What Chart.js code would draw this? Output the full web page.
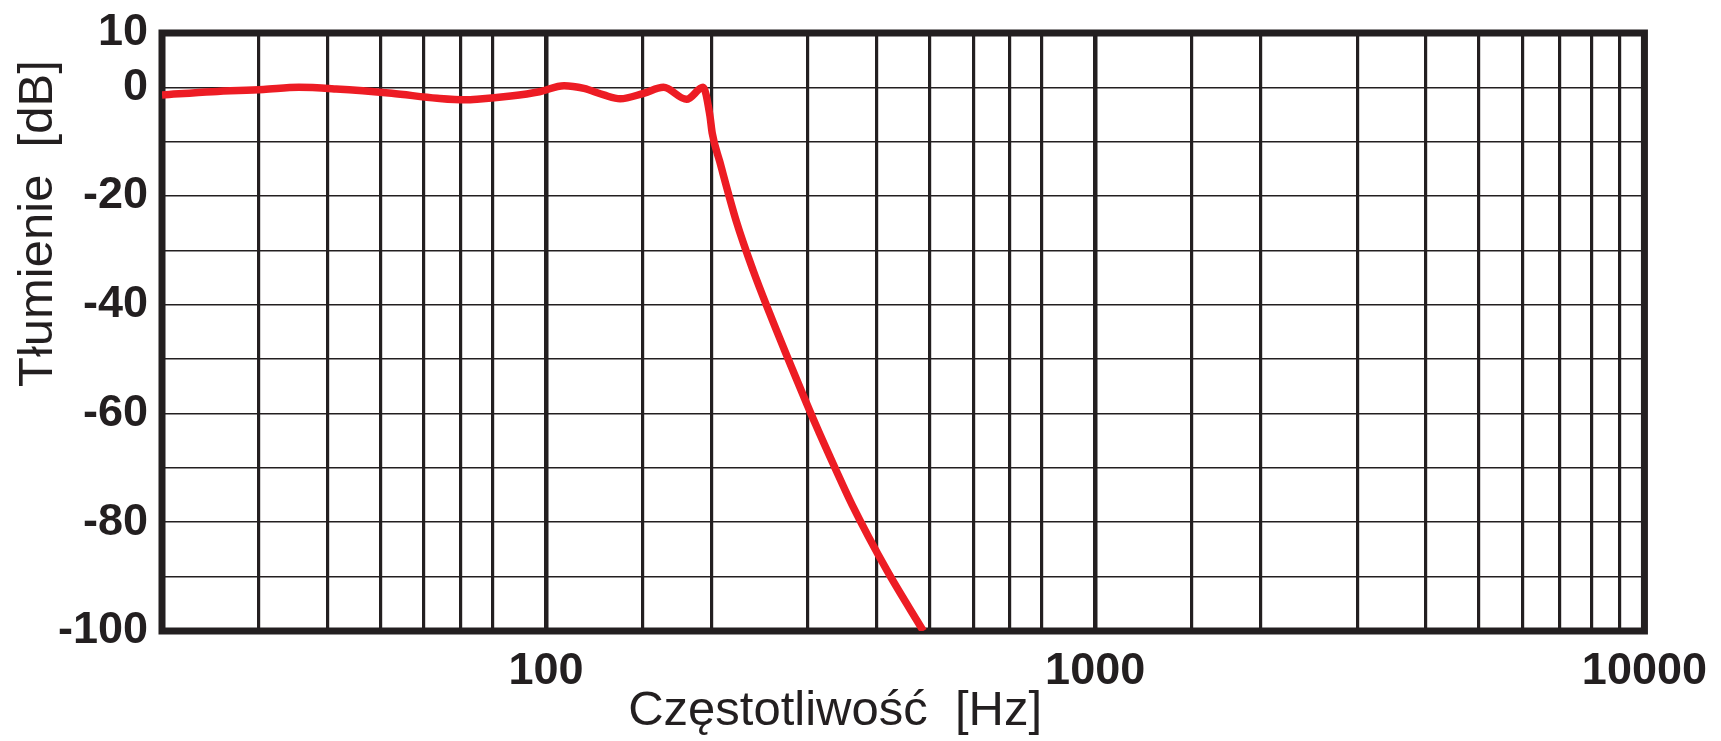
<!DOCTYPE html>
<html>
<head>
<meta charset="utf-8">
<script src="https://cdn.jsdelivr.net/npm/chart.js@4.4.1/dist/chart.umd.min.js"></script>
<style>
  html, body { margin: 0; padding: 0; background: #ffffff; }
  canvas { display: block; }
</style>
</head>
<body>
<canvas id="c" width="1721" height="741"></canvas>
<script>
// ---- data ----
const freqHz = [20, 24.7, 30.6, 35.5, 41.5, 52.4, 63.4, 71.3, 74.9, 86.3, 97.3, 107.9, 117.3, 127.5, 136.5, 150.6, 163.7, 180.4, 193.3, 198.8, 200.8, 207.3, 222.1, 238.2, 255.3, 273.6, 309.1, 337, 361, 418, 486.6];
const attenuationDb = [-1.4, -0.8, -0.4, 0.0, -0.3, -1.1, -2.0, -2.3, -2.2, -1.6, -0.8, 0.3, -0.2, -1.4, -2.1, -1.1, 0.0, -2.2, 0.0, -5.1, -8.4, -13.7, -24.6, -33.6, -41.5, -49.0, -61.8, -70.3, -76.8, -88.9, -100];
const xTickLabels = [100, 1000, 10000];
const yTickLabels = [10, 0, -20, -40, -60, -80, -100];
const hiddenGridFreqs = [90, 900];

const INK = '#231f20';
const RED = '#ed1c24';
const FONT = "'Liberation Sans', Arial, Helvetica, sans-serif";

const near = (a, b) => Math.abs(a - b) < 1e-6 * Math.max(1, Math.abs(b));

const framePlugin = {
  id: 'frame',
  beforeDatasetsDraw(chart) {
    const { ctx, chartArea: a } = chart;
    ctx.save();
    ctx.strokeStyle = INK;
    ctx.lineWidth = 7;
    ctx.strokeRect(a.left, a.top, a.right - a.left, a.bottom - a.top);
    ctx.restore();
  }
};

new Chart(document.getElementById('c'), {
  type: 'line',
  data: {
    datasets: [{
      data: freqHz.map((f, i) => ({ x: f, y: attenuationDb[i] })),
      borderColor: RED,
      borderWidth: 7.5,
      pointRadius: 0,
      fill: false,
      cubicInterpolationMode: 'monotone',
      borderCapStyle: 'butt',
      borderJoinStyle: 'round'
    }]
  },
  options: {
    responsive: false,
    animation: false,
    devicePixelRatio: 1,
    layout: { padding: { top: 33, right: 67, left: 0, bottom: 0 } },
    plugins: { legend: { display: false }, tooltip: { enabled: false } },
    scales: {
      x: {
        type: 'logarithmic',
        min: 20,
        max: 10000,
        afterFit(s) { s.height = 110; s.paddingLeft = 0; },
        border: { display: false },
        grid: {
          drawTicks: false,
          color(ctx) {
            const v = ctx.tick && ctx.tick.value;
            return hiddenGridFreqs.some(h => near(v, h)) ? 'rgba(0,0,0,0)' : INK;
          },
          lineWidth(ctx) {
            const v = ctx.tick && ctx.tick.value;
            return xTickLabels.some(h => near(v, h)) ? 4.5 : 3.2;
          }
        },
        ticks: {
          autoSkip: false,
          maxRotation: 0,
          minRotation: 0,
          padding: 14,
          color: INK,
          font: { family: FONT, size: 45, weight: 'bold' },
          callback(v) { return xTickLabels.some(h => near(v, h)) ? String(Math.round(v)) : ''; }
        },
        title: {
          display: true,
          text: 'Częstotliwość  [Hz]' + '\u00a0'.repeat(10),
          align: 'center',
          color: INK,
          font: { family: FONT, size: 49, weight: 'normal' },
          padding: { top: 0, bottom: 0 }
        }
      },
      y: {
        type: 'linear',
        min: -100,
        max: 10,
        afterFit(s) { s.width = 162; s.paddingTop = 0; s.paddingBottom = 0; },
        border: { display: false },
        grid: { drawTicks: false, color: INK, lineWidth: 1.6 },
        ticks: {
          autoSkip: false,
          stepSize: 10,
          padding: 14,
          color: INK,
          font: { family: FONT, size: 45, weight: 'bold' },
          callback(v) { return yTickLabels.includes(v) ? String(v) : ''; }
        },
        title: {
          display: true,
          text: 'Tłumienie  [dB]' + '\u00a0\u00a0',
          align: 'end',
          color: INK,
          font: { family: FONT, size: 49, weight: 'normal' },
          padding: { top: 9, bottom: 0 }
        }
      }
    }
  },
  plugins: [framePlugin]
});
</script>
</body>
</html>
